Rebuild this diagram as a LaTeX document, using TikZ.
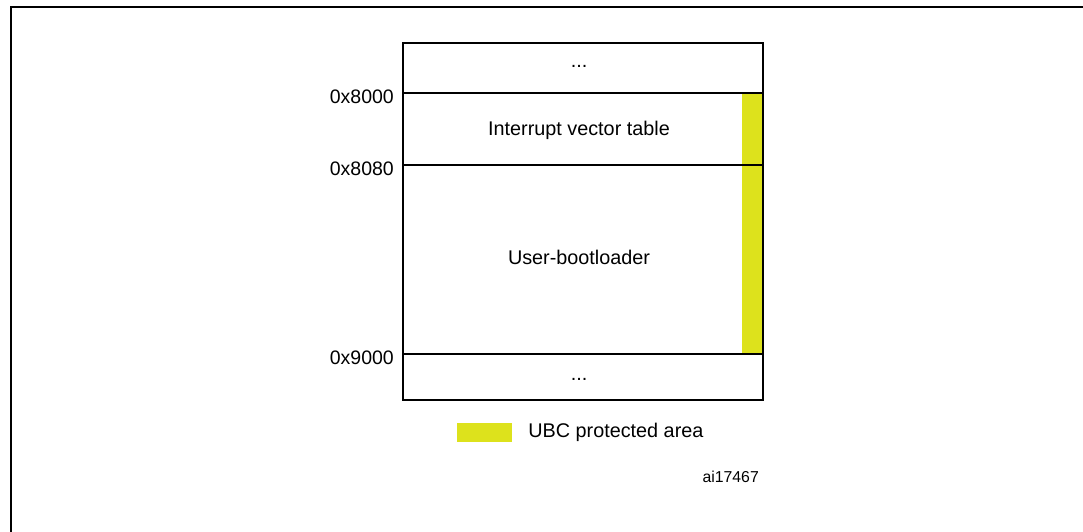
\documentclass[tikz,border=0pt]{standalone}
\usepackage{fontspec}
\setmainfont{Liberation Sans}
\usepackage{tikz}
\usetikzlibrary{calc, positioning}
\definecolor{ubcyellow}{RGB}{221,226,28}
\tikzstyle{addr}=[anchor=east, inner sep=0pt, font=\fontsize{19.5}{23}\selectfont]
\tikzstyle{region}=[inner sep=0pt, font=\fontsize{19.8}{24}\selectfont]
\tikzstyle{memline}=[line width=1.8pt]

\begin{document}
\begin{tikzpicture}[x=1pt, y=-1pt]
		\useasboundingbox (0,0) rectangle (1083,531);
		\draw[line width=2.2pt] (11,545) -- (11,7) -- (1095,7);

		% protected area
		\fill[ubcyellow] (742,93) rectangle (763,354);

		% memory map
		\draw[memline] (403,43) rectangle (763,400);
		\foreach \y in {93,165,354}
		\draw[memline] (403,\y) -- (763,\y);

		\foreach \y/\a in {93/8000,165/8080,354/9000}
		\node[addr] (a\a) at (394,\y+3.5) {0x\a};

		\node[region, anchor=base] (top) at (579,67) {...};
		\node[region] (ivt) at (579,130) {Interrupt vector table};
		\node[region] (ubl) at (579,257) {User-bootloader};
		\node[region, anchor=base] (bottom) at (579,380) {...};

		% legend
		\node[fill=ubcyellow, minimum width=55pt, minimum height=19pt, inner sep=0pt] (key) at (484.5,432.5) {};
		\node[region, anchor=west, right=16pt of key] (keytext) {UBC protected area};
		\node[anchor=east, inner sep=0pt, font=\fontsize{15.8}{19}\selectfont] (figid) at (759,477) {ai17467};
	\end{tikzpicture}
\end{document}
